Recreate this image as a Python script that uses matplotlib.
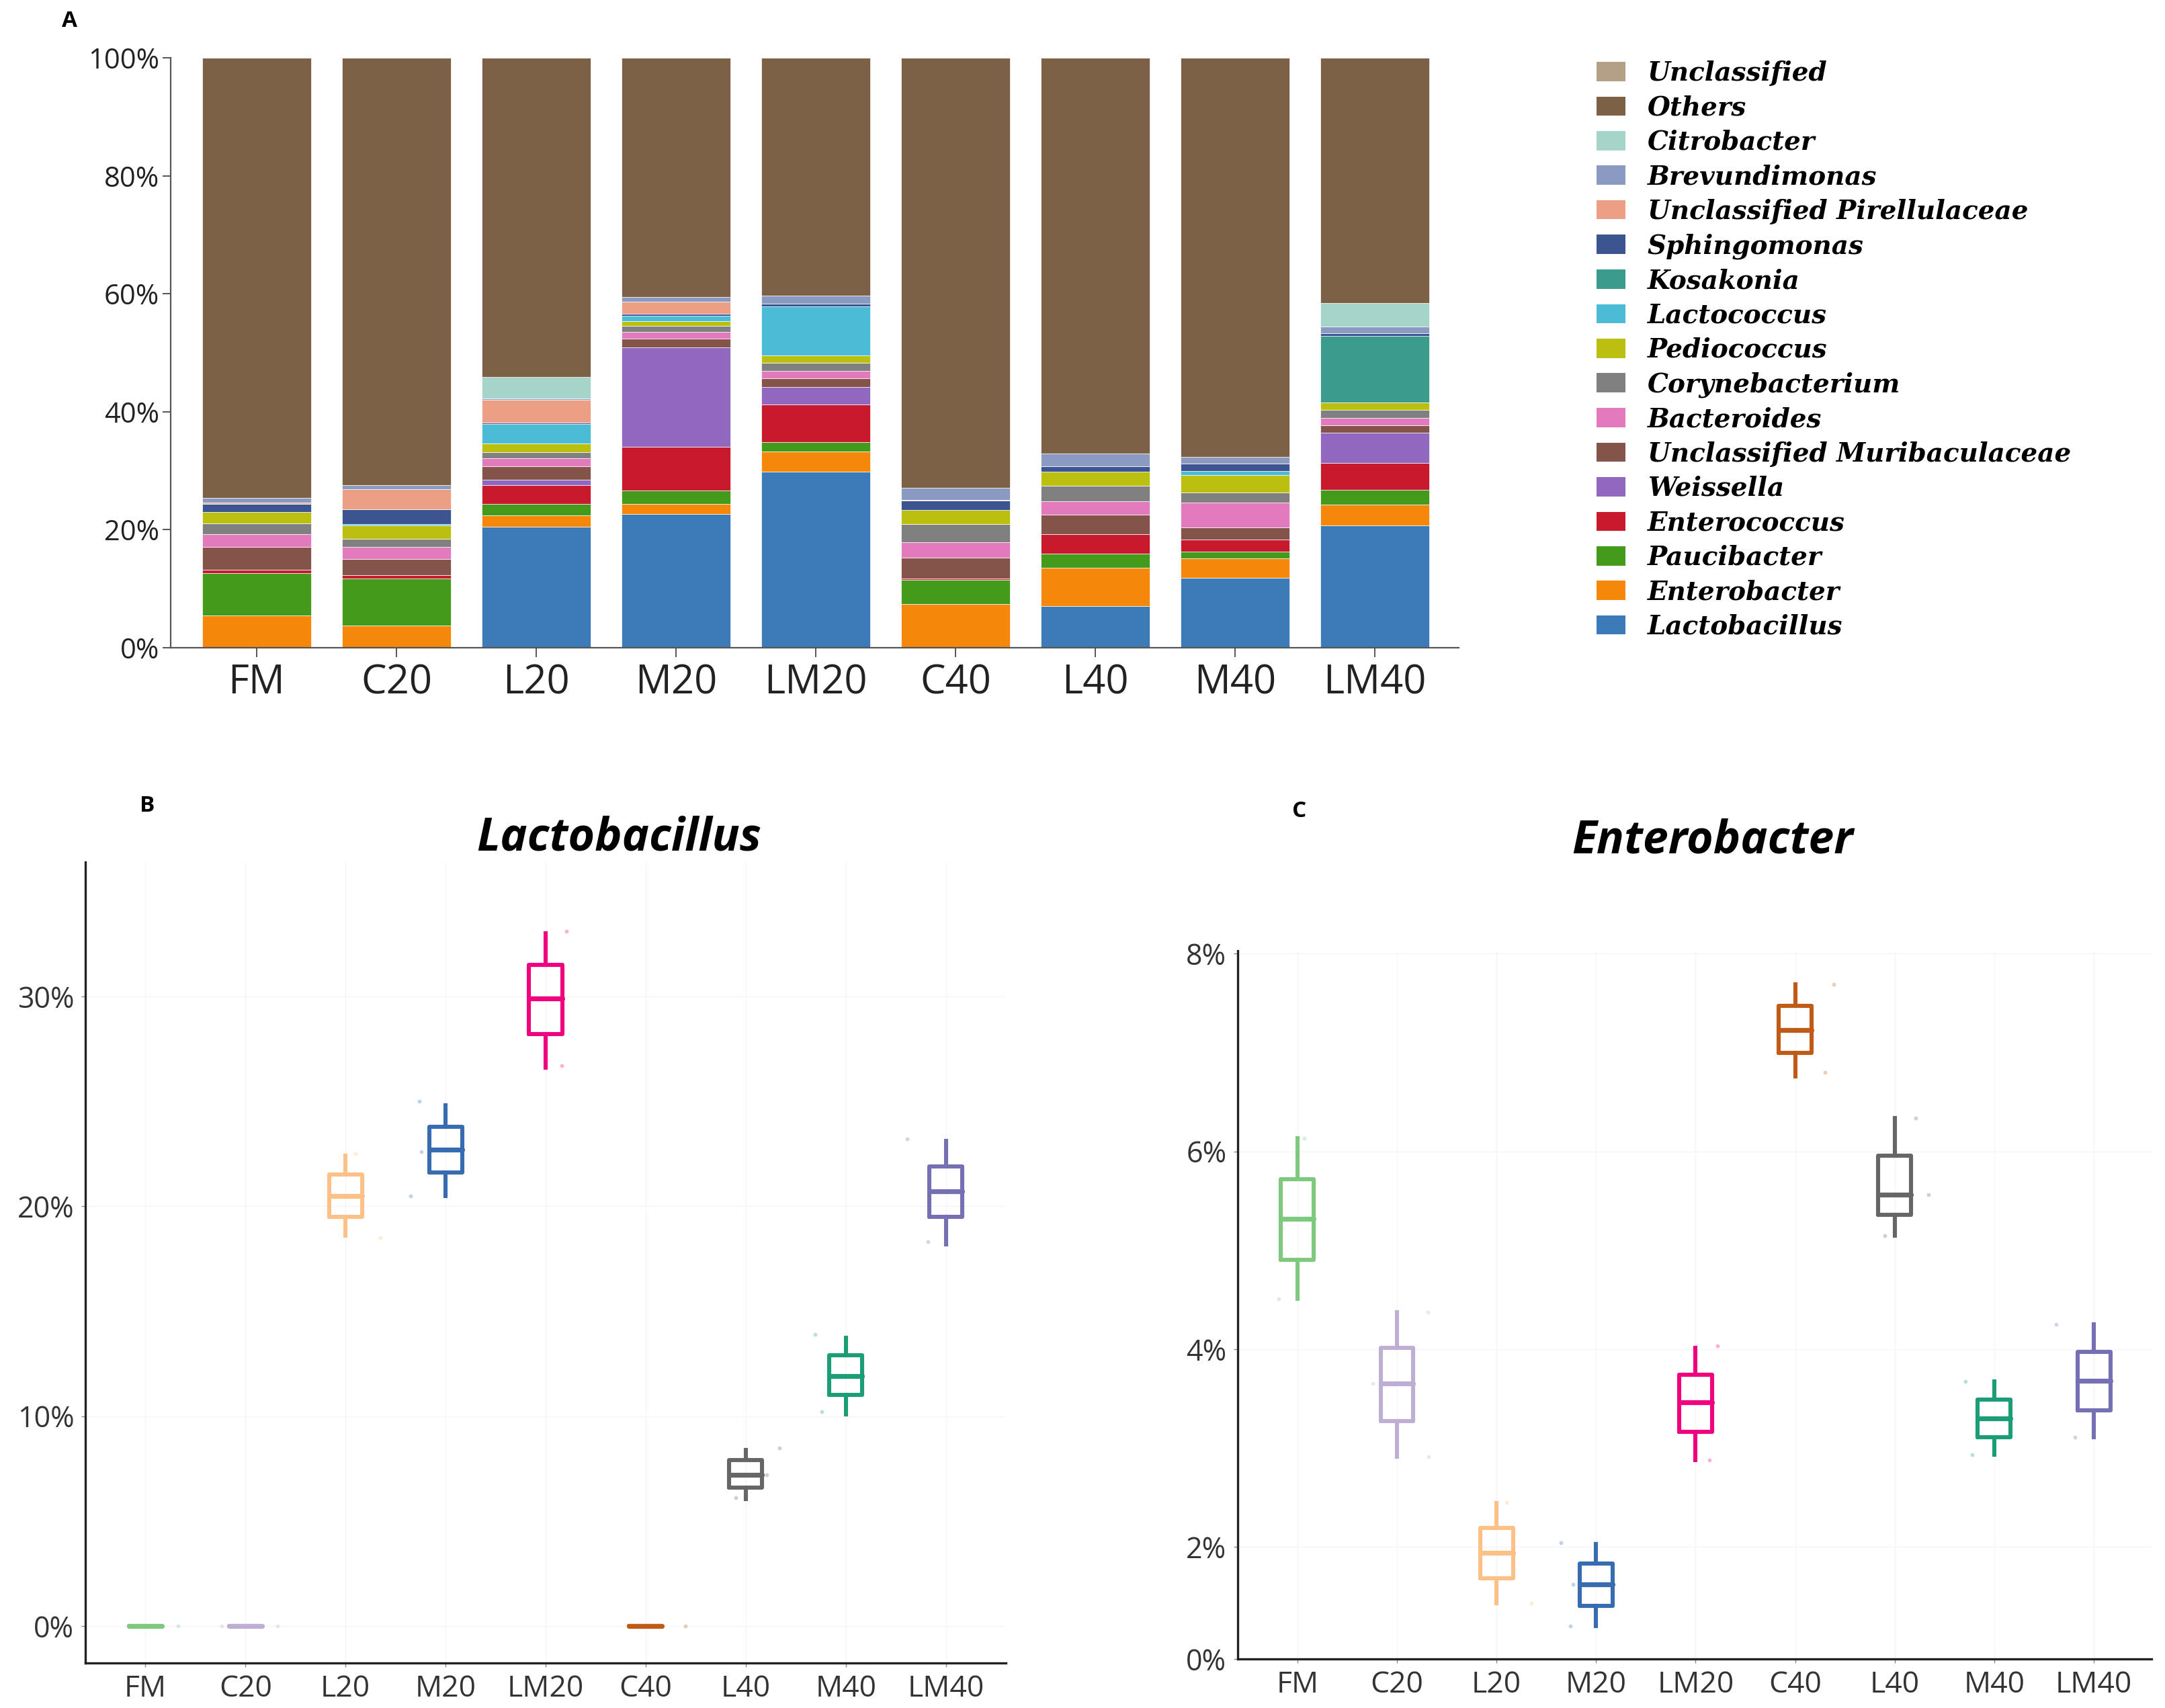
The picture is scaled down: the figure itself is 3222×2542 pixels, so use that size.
import numpy as np
import matplotlib
matplotlib.use("Agg")
import matplotlib.pyplot as plt
from matplotlib.patches import Patch

# ---------------- data ----------------
groups = ['FM', 'C20', 'L20', 'M20', 'LM20', 'C40', 'L40', 'M40', 'LM40']

# panel A: relative abundance (%) per genus, bottom to top
Lactobacillus = [0, 0, 20.5, 22.7, 29.8, 0, 7.1, 11.8, 20.7]
Enterobacter = [5.5, 3.8, 1.9, 1.7, 3.5, 7.4, 6.5, 3.4, 3.6]
Paucibacter = [7.1, 7.9, 2.0, 2.3, 1.6, 4.1, 2.4, 1.1, 2.5]
Enterococcus = [0.6, 0.6, 3.2, 7.4, 6.3, 0.2, 3.3, 2.0, 4.5]
Weissella = [0, 0, 0.9, 16.8, 3.0, 0, 0, 0, 5.2]
Unclassified_Muribaculaceae = [3.9, 2.7, 2.3, 1.5, 1.5, 3.6, 3.3, 2.1, 1.2]
Bacteroides = [2.1, 2.1, 1.3, 1.1, 1.2, 2.6, 2.2, 4.2, 1.2]
Corynebacterium = [1.9, 1.4, 1.0, 1.0, 1.4, 3.1, 2.6, 1.7, 1.4]
Pediococcus = [1.9, 2.2, 1.5, 0.9, 1.2, 2.4, 2.4, 3.0, 1.3]
Lactococcus = [0, 0.2, 3.3, 0.9, 8.4, 0, 0, 0.7, 0]
Kosakonia = [0, 0, 0, 0, 0, 0, 0, 0, 11.3]
Sphingomonas = [1.4, 2.6, 0.3, 0.3, 0.4, 1.5, 1.0, 1.2, 0.4]
Unclassified_Pirellulaceae = [0.2, 3.4, 3.8, 2.1, 0, 0.2, 0, 0, 0]
Brevundimonas = [0.8, 0.7, 0.2, 0.8, 1.4, 2.0, 2.1, 1.1, 1.1]
Citrobacter = [0, 0, 3.7, 0, 0, 0, 0, 0, 4.0]
Unclassified = [0, 0, 0, 0, 0, 0, 0, 0, 0]

taxa_names = ['Lactobacillus', 'Enterobacter', 'Paucibacter', 'Enterococcus', 'Weissella',
              'Unclassified Muribaculaceae', 'Bacteroides', 'Corynebacterium', 'Pediococcus',
              'Lactococcus', 'Kosakonia', 'Sphingomonas', 'Unclassified Pirellulaceae',
              'Brevundimonas', 'Citrobacter', 'Others', 'Unclassified']
known = [Lactobacillus, Enterobacter, Paucibacter, Enterococcus, Weissella,
         Unclassified_Muribaculaceae, Bacteroides, Corynebacterium, Pediococcus,
         Lactococcus, Kosakonia, Sphingomonas, Unclassified_Pirellulaceae,
         Brevundimonas, Citrobacter]
Others = list(100 - np.sum(np.array(known), axis=0))
taxa_values = known + [Others, Unclassified]

taxa_colors = ['#3C7BB8', '#F5870A', '#449A1B', '#C81A2D', '#9168C0',
               '#84534A', '#E37ABE', '#808080', '#BBBF0F',
               '#4ABCD6', '#3B9C8E', '#3C5490', '#EBA085',
               '#8A9AC0', '#A5D4C9', '#7C6147', '#B3A086']

# panel B: Lactobacillus box statistics (%)
lacto_whislo = [0, 0, 18.6, 20.5, 26.6, 0, 6.05, 10.1, 18.2]
lacto_q1 = [0, 0, 19.5, 21.6, 28.2, 0, 6.6, 11.0, 19.5]
lacto_med = [0, 0, 20.5, 22.7, 29.9, 0, 7.2, 11.9, 20.7]
lacto_q3 = [0, 0, 21.5, 23.8, 31.5, 0, 7.9, 12.9, 21.9]
lacto_whishi = [0, 0, 22.4, 24.8, 33.0, 0, 8.4, 13.75, 23.1]
lacto_points = [[0.0], [0.0, 0.0], [22.5, 18.5], [25.0, 22.6, 20.5], [33.1, 26.7],
                [0.0], [8.5, 7.2, 6.1], [13.9, 10.2], [23.2, 18.3]]

# panel C: Enterobacter box statistics (%)
entero_whislo = [4.51, 2.91, 1.43, 1.20, 2.88, 6.76, 5.15, 2.93, 3.11]
entero_q1 = [4.90, 3.27, 1.68, 1.40, 3.16, 7.00, 5.36, 3.11, 3.38]
entero_med = [5.32, 3.65, 1.94, 1.62, 3.46, 7.23, 5.56, 3.30, 3.68]
entero_q3 = [5.72, 4.01, 2.19, 1.83, 3.74, 7.47, 5.96, 3.49, 3.97]
entero_whishi = [6.13, 4.37, 2.44, 2.03, 4.01, 7.69, 6.34, 3.67, 4.25]
entero_points = [[6.13, 4.51], [4.37, 3.65, 2.91], [2.45, 1.43], [2.04, 1.62, 1.20],
                 [4.03, 2.88], [7.69, 6.80], [6.34, 5.56, 5.15], [3.67, 2.93], [4.25, 3.11]]

group_colors = ['#7FC97F', '#BEAED4', '#FDC086', '#386CB0', '#F0027F',
                '#BF5B17', '#666666', '#1B9E77', '#7570B3']

# jitter offsets of the faint sample dots (style only)
lacto_offsets = [[0.33], [-0.24, 0.32], [0.10, 0.35], [-0.26, -0.24, -0.35], [0.21, 0.16],
                 [0.40], [0.34, 0.21, -0.10], [-0.31, -0.24], [-0.39, -0.18]]
entero_offsets = [[0.07, -0.19], [0.31, -0.24, 0.32], [0.10, 0.35], [-0.35, -0.23, -0.26],
                  [0.22, 0.14], [0.39, 0.30], [0.21, 0.34, -0.10], [-0.29, -0.22], [-0.38, -0.19]]

# ---------------- figure ----------------
W, H = 3222, 2542
fig = plt.figure(figsize=(W / 100, H / 100), dpi=100)
sans = ['Open Sans', 'DejaVu Sans']


def rect(l, t, r, b):
    return [l / W, 1 - b / H, (r - l) / W, (b - t) / H]


# ---------- Panel A ----------
axA = fig.add_axes(rect(254, 86, 2171, 964))
x = np.arange(len(groups))
bottom = np.zeros(len(groups))
for name, vals, col in zip(taxa_names, taxa_values, taxa_colors):
    v = np.array(vals, dtype=float)
    axA.bar(x, v, bottom=bottom, width=0.78, color=col, edgecolor='white',
            linewidth=0.5, label=name)
    bottom += v
axA.set_xlim(-0.615, 8.6)
axA.set_ylim(0, 100)
axA.set_yticks([0, 20, 40, 60, 80, 100])
axA.set_yticklabels(['0%', '20%', '40%', '60%', '80%', '100%'])
axA.set_xticks(x)
axA.set_xticklabels(groups)
for s in ['top', 'right']:
    axA.spines[s].set_visible(False)
for s in ['left', 'bottom']:
    axA.spines[s].set_color('#555555')
    axA.spines[s].set_linewidth(1.6)
axA.tick_params(axis='y', length=9, width=1.4, color='#555555', labelsize=30, pad=3)
axA.tick_params(axis='x', length=10, width=1.4, color='#555555', labelsize=43, pad=6)
for lab in axA.get_xticklabels() + axA.get_yticklabels():
    lab.set_family(sans)
    lab.set_color('#222222')

handles = [Patch(facecolor=c, edgecolor='none') for c in taxa_colors]
order = list(range(len(taxa_names)))[::-1]
leg = fig.legend([handles[i] for i in order], [taxa_names[i] for i in order],
                 loc='upper left', bbox_to_anchor=(2376 / W, 1 - 90 / H),
                 bbox_transform=fig.transFigure, frameon=False,
                 prop={'family': 'DejaVu Serif', 'style': 'italic', 'weight': 'bold', 'size': 28},
                 handlelength=1.1, handleheight=0.75, handletextpad=0.85,
                 labelspacing=0.345, borderaxespad=0, borderpad=0)

fig.text(103 / W, 1 - 31 / H, 'A', fontsize=24, fontweight='bold', family=sans,
         ha='center', va='center')


# ---------- box panels ----------
def box_panel(ax, whislo, q1, med, q3, whishi, points, offsets):
    stats = []
    for i in range(len(groups)):
        stats.append(dict(whislo=whislo[i], q1=q1[i], med=med[i], q3=q3[i],
                          whishi=whishi[i], fliers=[], label=groups[i]))
    pos = np.arange(len(groups))
    b = ax.bxp(stats, positions=pos, widths=0.33, showcaps=False, showfliers=False,
               patch_artist=False)
    for i, c in enumerate(group_colors):
        b['boxes'][i].set(color=c, linewidth=4.4, solid_capstyle='round')
        b['medians'][i].set(color=c, linewidth=5.2, solid_capstyle='round')
        b['whiskers'][2 * i].set(color=c, linewidth=4.4)
        b['whiskers'][2 * i + 1].set(color=c, linewidth=4.4)
    for i, (pts, offs) in enumerate(zip(points, offsets)):
        ax.scatter(i + np.array(offs), pts, s=18, color=group_colors[i], alpha=0.3,
                   linewidths=0, zorder=3)
    ax.set_xticks(pos)
    ax.set_xticklabels(groups)
    for s in ['top', 'right']:
        ax.spines[s].set_visible(False)
    for s in ['left', 'bottom']:
        ax.spines[s].set_color('#222222')
        ax.spines[s].set_linewidth(2.4)
    ax.grid(True, color='#f5f5f5', linewidth=1.0)
    ax.set_axisbelow(True)
    ax.tick_params(axis='y', length=4, width=1.0, color='#888888', labelsize=31,
                   labelcolor='#333333', pad=8)
    ax.tick_params(axis='x', length=4, width=1.0, color='#888888', labelsize=32,
                   labelcolor='#333333', pad=8)
    for lab in ax.get_xticklabels() + ax.get_yticklabels():
        lab.set_family(sans)


axB = fig.add_axes(rect(127, 1283, 1497, 2475))
box_panel(axB, lacto_whislo, lacto_q1, lacto_med, lacto_q3, lacto_whishi,
          lacto_points, lacto_offsets)
axB.set_xlim(-0.6, 8.6)
axB.set_ylim(-1.76, 36.4)
axB.set_yticks([0, 10, 20, 30])
axB.set_yticklabels(['0%', '10%', '20%', '30%'])
fig.text(921 / W, 1 - 1248 / H, 'Lactobacillus', fontsize=49, fontweight='bold',
         style='italic', family=sans, ha='center', va='center')
fig.text(219 / W, 1 - 1199 / H, 'B', fontsize=24, fontweight='bold', family=sans,
         ha='center', va='center')

axC = fig.add_axes(rect(1842, 1415, 3202, 2469))
box_panel(axC, entero_whislo, entero_q1, entero_med, entero_q3, entero_whishi,
          entero_points, entero_offsets)
axC.set_xlim(-0.6, 8.58)
ybot = 0.865
axC.set_ylim(ybot, 8.03)
axC.set_yticks([ybot, 2, 4, 6, 8])
axC.set_yticklabels(['0%', '2%', '4%', '6%', '8%'])
fig.text(2549 / W, 1 - 1252 / H, 'Enterobacter', fontsize=49, fontweight='bold',
         style='italic', family=sans, ha='center', va='center')
fig.text(1934 / W, 1 - 1208 / H, 'C', fontsize=24, fontweight='bold', family=sans,
         ha='center', va='center')

fig.savefig('out.png', dpi=100, facecolor='white')
